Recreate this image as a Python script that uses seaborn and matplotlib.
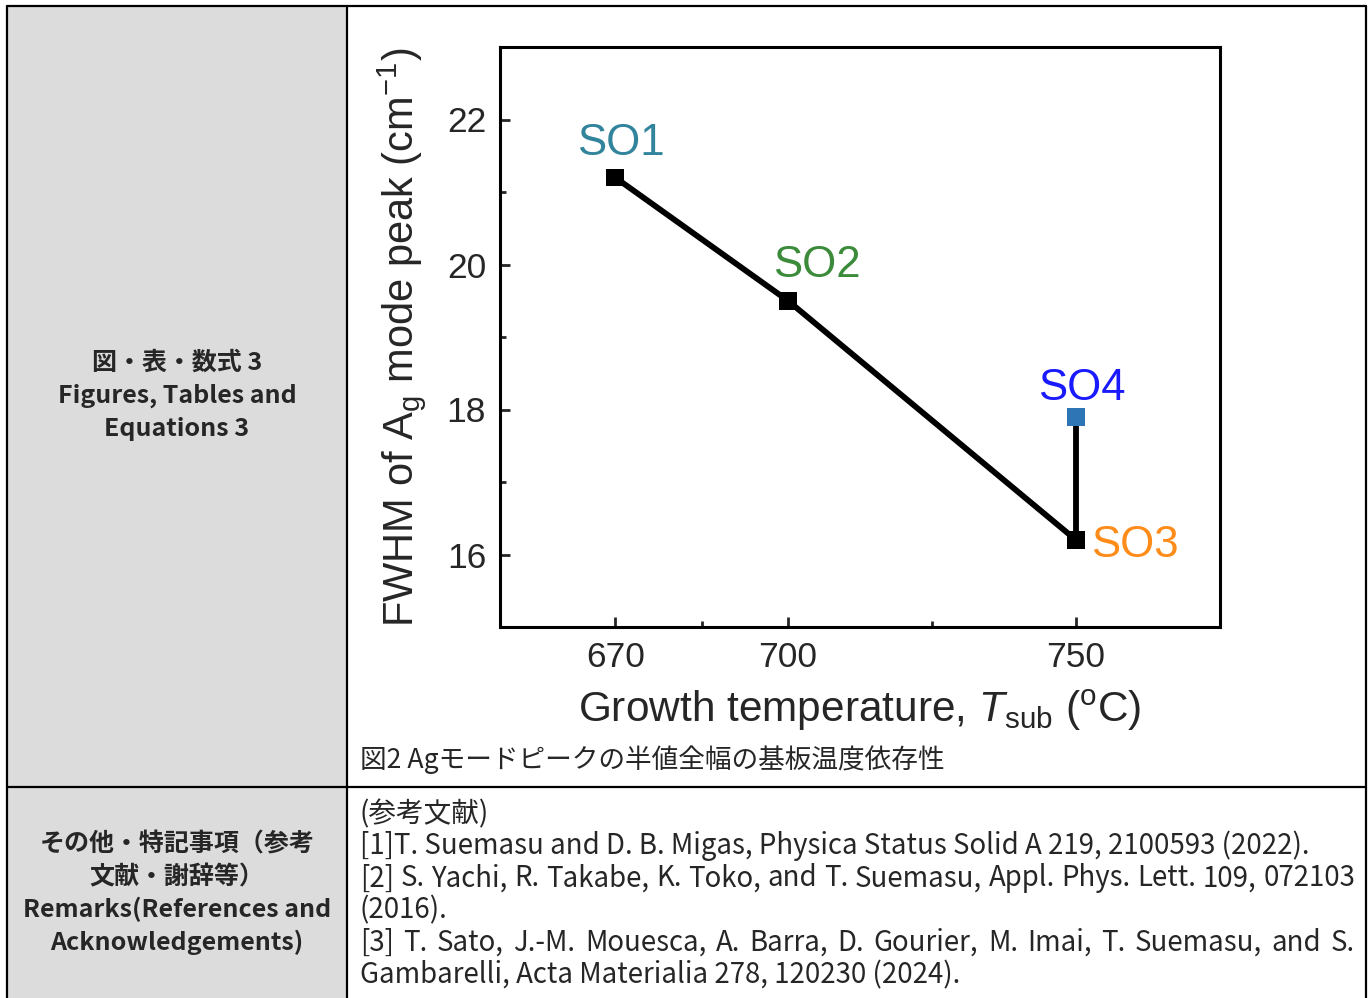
import matplotlib
matplotlib.use("Agg")
import matplotlib.pyplot as plt
import matplotlib.patches as patches
import seaborn as sns
import pandas as pd

# data
samples = ["SO1", "SO2", "SO3", "SO4"]
temps = [670, 700, 750, 750]
fwhm = [21.2, 19.5, 16.2, 17.9]
marker_colors = {"SO1": "black", "SO2": "black", "SO3": "black", "SO4": "#2e75b6"}
label_colors = {"SO1": "#31849b", "SO2": "#3b8b3b", "SO3": "#ff8c1a", "SO4": "#1a1aff"}
label_offsets = {"SO1": (4, 16), "SO2": (21, 17), "SO3": (11, -4), "SO4": (4, 12)}
x_ticks = [670, 700, 750]
x_minor = [685, 725]
y_ticks = [16, 18, 20, 22]
y_minor = [17, 19, 21]

caption = "図2 Agモードピークの半値全幅の基板温度依存性"
left_top = ["図・表・数式 3", "Figures, Tables and", "Equations 3"]
left_bottom = ["その他・特記事項（参考", "文献・謝辞等）", "Remarks(References and", "Acknowledgements)"]
refs = [
    "(参考文献)",
    "[1]T. Suemasu and D. B. Migas, Physica Status Solid A 219, 2100593 (2022).",
    "[2] S. Yachi, R. Takabe, K. Toko, and T. Suemasu, Appl. Phys. Lett. 109, 072103",
    "(2016).",
    "[3] T. Sato, J.-M. Mouesca, A. Barra, D. Gourier, M. Imai, T. Suemasu, and S.",
    "Gambarelli, Acta Materialia 278, 120230 (2024).",
]
refs_justified = [False, False, True, False, True, False]

df = pd.DataFrame({"sample": samples, "T": temps, "fwhm": fwhm})

sns.set_style("white")
plt.rcParams["font.family"] = ["Liberation Sans", "DejaVu Sans"]
plt.rcParams["mathtext.default"] = "regular"
plt.rcParams["mathtext.fontset"] = "custom"
plt.rcParams["mathtext.it"] = "Liberation Sans:italic"
plt.rcParams["mathtext.rm"] = "Liberation Sans"

JP = ["Noto Sans CJK JP", "DejaVu Sans"]
W, H = 1370, 998
fig = plt.figure(figsize=(13.7, 9.98), dpi=100)

# table background and grid
fig.add_artist(patches.Rectangle((7 / W, 0), (347 - 7) / W, (H - 6) / H,
                                 transform=fig.transFigure, facecolor="#dcdcdc",
                                 edgecolor="none", zorder=0))
def hline(y, x0=7, x1=1366):
    fig.add_artist(plt.Line2D([x0 / W, x1 / W], [1 - y / H, 1 - y / H],
                              transform=fig.transFigure, color="black", lw=1.6))
def vline(x, y0=6, y1=998):
    fig.add_artist(plt.Line2D([x / W, x / W], [1 - y0 / H, 1 - y1 / H],
                              transform=fig.transFigure, color="black", lw=1.6))
hline(6)
hline(787)
vline(7)
vline(347)
vline(1366)

# the chart
ax = fig.add_axes([500 / W, 1 - 627 / H, 720 / W, 580 / H])
sns.lineplot(data=df, x="T", y="fwhm", sort=False, estimator=None, color="black",
             lw=4.2, ax=ax, zorder=2)
sns.scatterplot(data=df, x="T", y="fwhm", hue="sample", palette=marker_colors, marker="s",
                s=160, edgecolor="none", legend=False, ax=ax, zorder=3)

for name, t, v in zip(samples, temps, fwhm):
    dx, dy = label_offsets[name]
    ha = "left" if name == "SO3" else "center"
    va = "center" if name == "SO3" else "baseline"
    ax.annotate(name, (t, v), xytext=(dx, dy), textcoords="offset points",
                ha=ha, va=va, fontsize=31.5, color=label_colors[name])

ax.set_xlim(650, 775)
ax.set_ylim(15, 23)
ax.set_xticks(x_ticks)
ax.set_xticks(x_minor, minor=True)
ax.set_yticks(y_ticks)
ax.set_yticks(y_minor, minor=True)
ax.tick_params(which="both", direction="in", width=2, top=False, right=False,
               bottom=True, left=True)
ax.tick_params(which="major", length=7)
ax.tick_params(which="minor", length=4)
ax.tick_params(axis="x", which="major", labelsize=25.5, pad=10)
ax.tick_params(axis="y", which="major", labelsize=25.5, pad=10)
for sp in ax.spines.values():
    sp.set_linewidth(2.2)
    sp.set_color("black")

ax.set_xlabel(r"Growth temperature, $\mathit{T}_{\mathregular{sub}}$ ($\mathregular{^o}$C)",
              fontsize=30.5)
ax.xaxis.set_label_coords(0.5, -0.105)
ax.set_ylabel(r"FWHM of A$_{\mathregular{g}}$ mode peak (cm$^{\mathregular{-1}}$)", fontsize=30)
ax.yaxis.set_label_coords(-0.10, 0.5)

# caption under the chart
fig.text(360 / W, 1 - 760 / H, caption, fontsize=19.2, va="center", ha="left", family=JP)

# left column labels
for i, s in enumerate(left_top):
    fig.text(177 / W, 1 - (363 + 33 * i) / H, s, fontsize=18, weight="bold",
             ha="center", va="center", family=JP)
for i, s in enumerate(left_bottom):
    fig.text(177 / W, 1 - (845 + 32.4 * i) / H, s, fontsize=18, weight="bold",
             ha="center", va="center", family=JP)

# references (justified lines are spread word by word to the cell edge)
renderer = fig.canvas.get_renderer()
for i, (s, just) in enumerate(zip(refs, refs_justified)):
    y = 1 - (814 + 32.2 * i) / H
    if not just:
        fig.text(360 / W, y, s, fontsize=19.9, ha="left", va="center", family=JP)
        continue
    words = s.split(" ")
    parts = [fig.text(0, y, w, fontsize=19.9, ha="left", va="center", family=JP) for w in words]
    widths = [p.get_window_extent(renderer).width for p in parts]
    gap = (1355 - 360 - sum(widths)) / (len(words) - 1)
    x = 360
    for p, w in zip(parts, widths):
        p.set_x(x / W)
        x += w + gap

fig.savefig("out.png", dpi=100)
